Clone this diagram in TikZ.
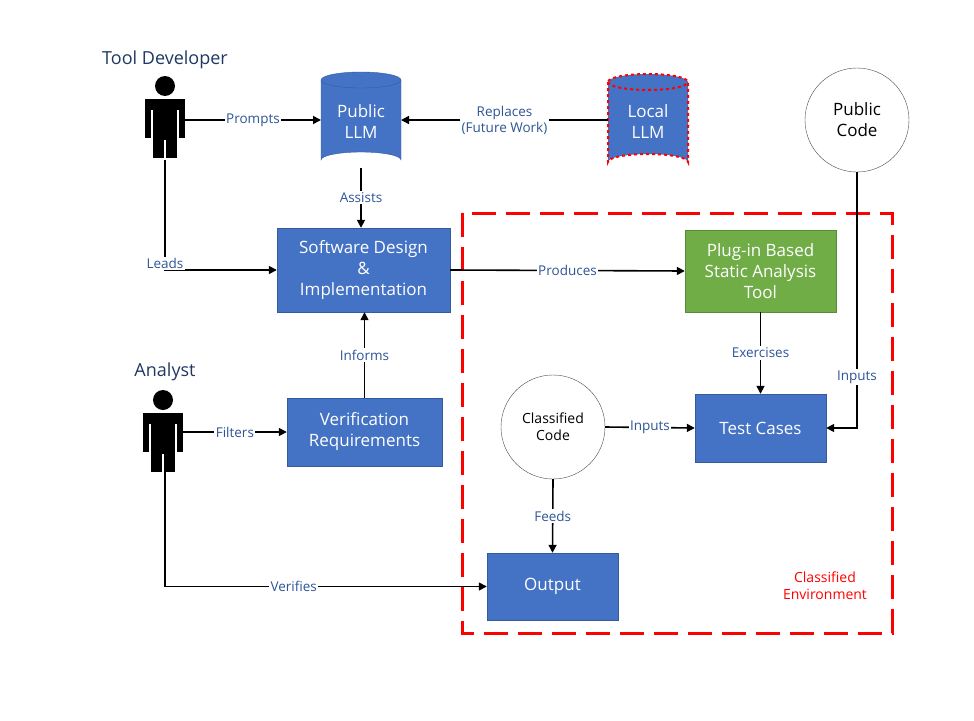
\documentclass[tikz,border=0pt]{standalone}
\usepackage{fontspec}
\setmainfont{Open Sans}
\usetikzlibrary{arrows.meta}
\definecolor{bx}{HTML}{4472C4}
\definecolor{gr}{HTML}{70AD47}
\definecolor{lb}{HTML}{2F5597}
\definecolor{nv}{HTML}{1F3864}
\begin{document}
\begin{tikzpicture}[x=1pt,y=-1pt,
 box/.style={fill=bx,draw=bx!80!black,text=white,font=\fontsize{17}{21}\selectfont,align=center,inner sep=0},
 lab/.style={fill=white,text=lb,font=\fontsize{13.5}{16}\selectfont,align=center,inner sep=1.5pt},
 arr/.style={-{Triangle[length=8pt,width=8pt]},line width=1.6pt},
 circ/.style={circle,draw=black!70,fill=white,align=center,inner sep=0,minimum size=104pt}]
\useasboundingbox (0,0) rectangle (974,720);
\def\person#1#2{%
 \fill (#1,#2-32) circle (10);
 \fill (#1-20,#2-19) rectangle (#1+20,#2+20);
 \fill[white] (#1-14,#2-8) rectangle (#1-12,#2+21);
 \fill[white] (#1+12,#2-8) rectangle (#1+14,#2+21);
 \fill (#1-12,#2+19) rectangle (#1+12,#2+40);
 \fill[white] (#1-1,#2+22) rectangle (#1+1,#2+41);}
\def\cyl#1#2#3{%
 \fill[bx,draw=#3] (#1-40,#2-40) -- (#1-40,#2+40) arc[start angle=180,end angle=360,x radius=40,y radius=8] -- (#1+40,#2-40) arc[start angle=0,end angle=-180,x radius=40,y radius=8] -- cycle;
 \draw[#3] (#1-40,#2-40) arc[start angle=180,end angle=0,x radius=40,y radius=8];}
% titles
\node[text=nv,font=\fontsize{18}{22}\selectfont] (td) at (165,60) {Tool Developer};
\node[text=nv,font=\fontsize{18}{22}\selectfont] (an) at (165,372) {Analyst};
\person{165}{118}
\person{163}{432}
\coordinate (p1r) at (185,120); \coordinate (p1b) at (165,160);
\coordinate (p2r) at (183,432); \coordinate (p2b) at (165,472);
% cylinders
\cyl{361}{120}{bx!80!black}
\node[text=white,font=\fontsize{17}{21}\selectfont,align=center] (pl) at (361,122) {Public\\LLM};
\cyl{648}{122}{red,dashed,line width=2pt}
\node[text=white,font=\fontsize{17}{21}\selectfont,align=center] (ll) at (648,122) {Local\\LLM};
\coordinate (pll) at (321,120); \coordinate (plr) at (401,120); \coordinate (plb) at (361,168);
\coordinate (lll) at (608,120);
% classified env
\draw[red,line width=3pt,dash pattern=on 24pt off 10pt] (462,213) rectangle (892,633);
\node[text=red,font=\fontsize{14}{17}\selectfont,align=center] (ce) at (825,586) {Classified\\Environment};
% boxes
\node[box,minimum width=173pt,minimum height=84pt] (sw) at (363.5,270) {Software Design\\\&\\Implementation};
\node[box,fill=gr,draw=gr!80!black,minimum width=151pt,minimum height=82pt] (pi) at (760.5,271) {Plug-in Based\\Static Analysis\\Tool};
\node[box,minimum width=155pt,minimum height=68pt] (vr) at (364.5,432) {Verification\\Requirements};
\node[box,minimum width=131pt,minimum height=68pt] (tc) at (760.5,428) {Test Cases};
\node[box,minimum width=131pt,minimum height=67pt] (out) at (552.5,586.5) {Output};
\node[circ,font=\fontsize{17}{21}\selectfont] (pc) at (857,120) {Public\\Code};
\node[circ,font=\fontsize{14}{17}\selectfont] (cc) at (553,427) {Classified\\Code};
% connectors
\draw[arr] (p1r) -- node[lab]{Prompts} (pll);
\draw[arr] (lll) -- node[lab]{Replaces\\(Future Work)} (plr);
\draw[arr] (plb) -- node[lab]{Assists} (sw.north -| plb);
\draw[arr] (p1b) |- node[lab,pos=0.47]{Leads} (sw.west);
\draw[arr] (sw.east) -- node[lab]{Produces} (pi.west);
\draw[arr] (vr.north) -- node[lab]{Informs} (sw.south -| vr.north);
\draw[arr] (p2r) -- node[lab]{Filters} (vr.west);
\draw[arr] (pi.south) -- node[lab]{Exercises} (tc.north);
\draw[arr] (pc.south) |- node[lab,pos=0.4]{Inputs} (tc.east);
\draw[arr] (cc.east) -- node[lab]{Inputs} (tc.west);
\draw[arr] (cc.south) -- node[lab]{Feeds} (out.north);
\draw[arr] (p2b) |- node[lab,pos=0.7]{Verifies} (out.west);
\end{tikzpicture}
\end{document}
